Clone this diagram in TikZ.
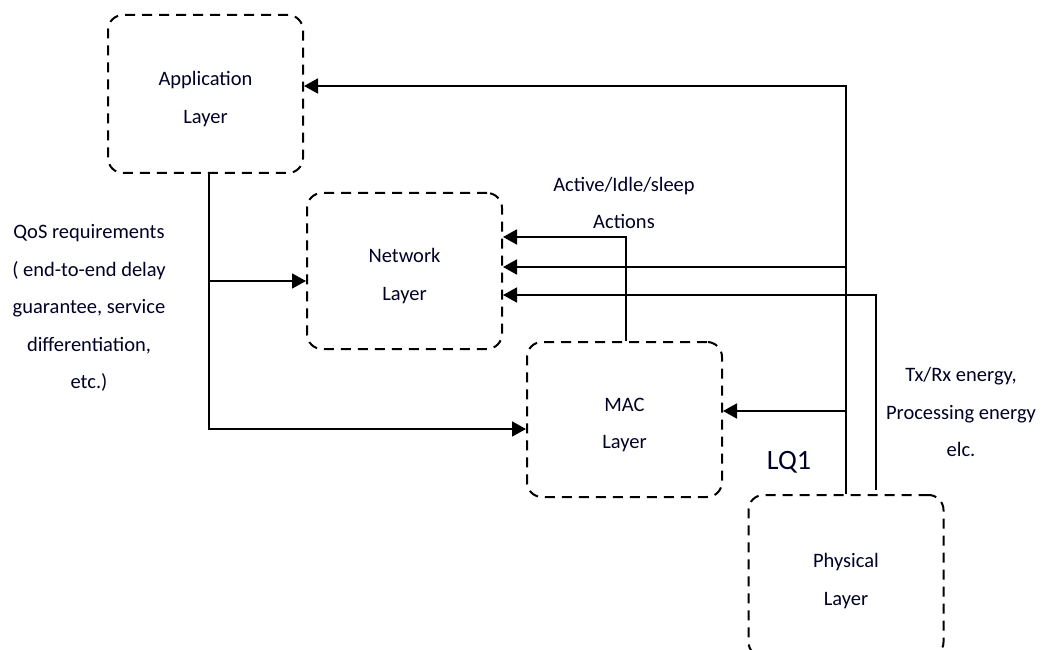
\documentclass[tikz,border=0pt]{standalone}
\usepackage{fontspec}
\setmainfont{Carlito}
\usetikzlibrary{arrows.meta}
\begin{document}
\begin{tikzpicture}[x=1pt,y=-1pt,
  layer/.style={draw, line width=2pt, dash pattern=on 10pt off 7pt, rounded corners=15pt,
    align=center, inner sep=0pt, text height=62pt, font=\fontsize{20.5}{37.5}\selectfont, text=black!85!blue},
  conn/.style={line width=1.8pt},
  arr/.style={conn, -{Triangle[length=14pt,width=15pt]}},
  lbl/.style={align=center, inner sep=0pt, font=\fontsize{20.5}{37.5}\selectfont, text=black!85!blue}]
\useasboundingbox (0,0) rectangle (1042,650);
% boxes
\node[layer, minimum width=195pt, minimum height=158pt] (app) at (205.5,94) {Application\\Layer};
\node[layer, minimum width=195pt, minimum height=156pt] (net) at (404.5,271) {Network\\Layer};
\node[layer, minimum width=195pt, minimum height=155pt] (mac) at (624.5,419.5) {MAC\\Layer};
\node[layer, minimum width=195pt, minimum height=162pt] (phy) at (846,576) {Physical\\Layer};
% labels
\node[lbl] (qos) at (89,308) {QoS requirements\\( end-to-end delay\\guarantee, service\\differentiation,\\etc.)};
\node[lbl] (act) at (624,203) {Active/Idle/sleep\\Actions};
\node[lbl] (txrx) at (961,412) {Tx/Rx energy,\\Processing energy\\elc.};
\node[lbl, font=\fontsize{28}{30}\selectfont] (lq) at (789,462) {LQ1};
% left-side connectors
\coordinate (qa) at (209,429);
\coordinate (qb) at (209,281);
\draw[arr] (app.south -| qa) -- (qa) -- (qa -| mac.west);
\draw[arr] (qb) -- (qb -| net.west);
% right-side connectors
\coordinate (r1) at (846,86);
\coordinate (r2) at (846,267);
\coordinate (r3) at (846,411);
\draw[arr] (phy.north) -- (r1) -- (r1 -| app.east);
\draw[arr] (r2) -- (r2 -| net.east);
\draw[arr] (r3) -- (r3 -| mac.east);
\coordinate (s1) at (876,490);
\coordinate (s2) at (876,295);
\draw[arr] (s1) -- (s2) -- (s2 -| net.east);
\coordinate (m1) at (626,237);
\draw[arr] (mac.north -| m1) -- (m1) -- (m1 -| net.east);
\end{tikzpicture}
\end{document}
